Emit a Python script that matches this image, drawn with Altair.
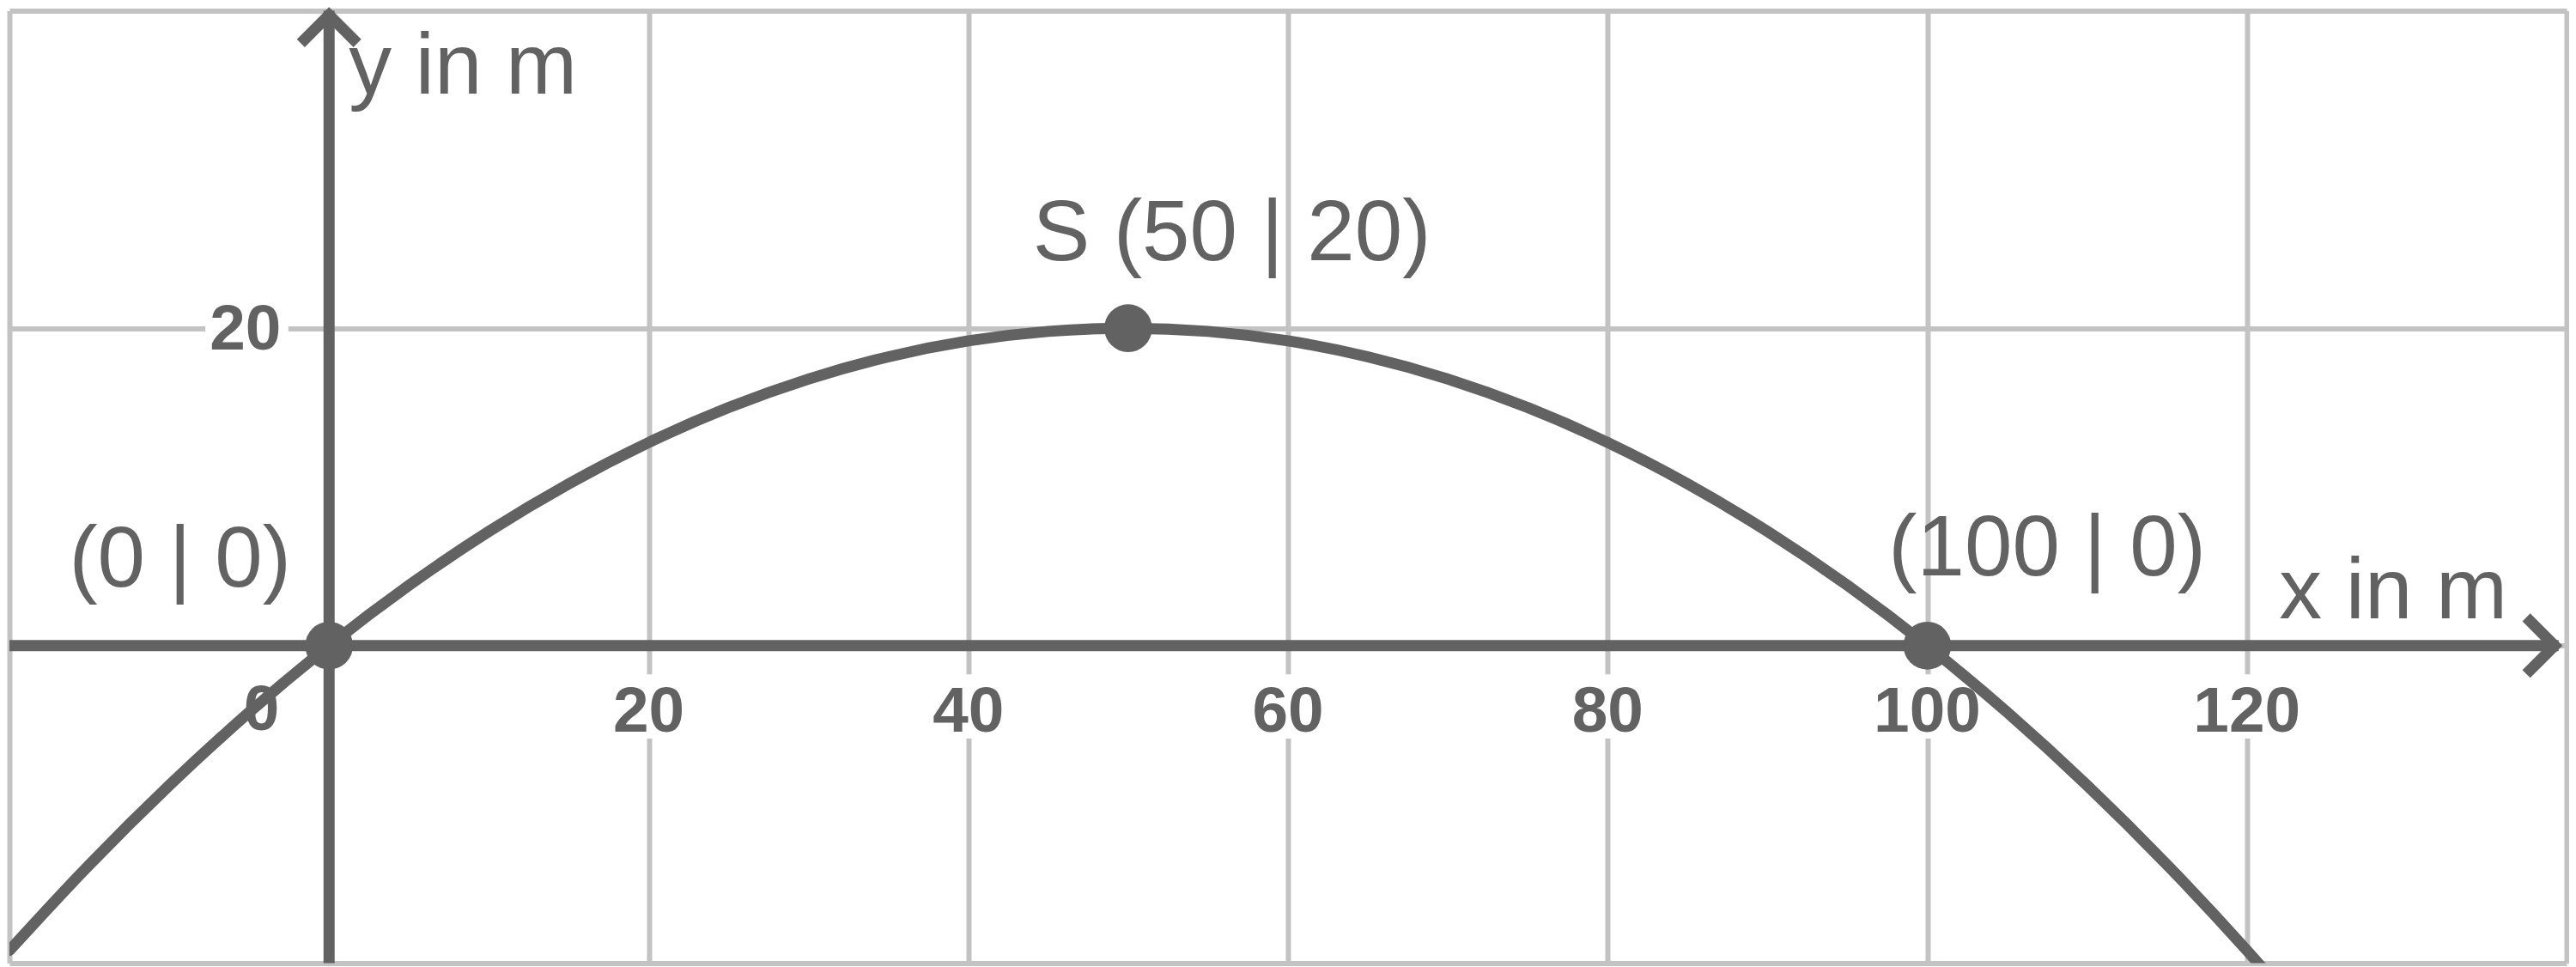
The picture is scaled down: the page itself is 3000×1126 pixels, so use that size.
import altair as alt
import pandas as pd

# ---------------- data ----------------
curve_x = [-20, -15, -10, -5, 0, 5, 10, 15, 20, 25, 30, 35, 40, 45, 50,
           55, 60, 65, 70, 75, 80, 85, 90, 95, 100, 105, 110, 115, 120, 125]
curve_y = [-19.2, -13.8, -8.8, -4.2, 0, 3.8, 7.2, 10.2, 12.8, 15.0, 16.8, 18.2, 19.2, 19.8, 20,
           19.8, 19.2, 18.2, 16.8, 15.0, 12.8, 10.2, 7.2, 3.8, 0, -4.2, -8.8, -13.8, -19.2, -25.0]

grid_x = [-20, 0, 20, 40, 60, 80, 100, 120, 140]
grid_y = [-20, 0, 20, 40]

tick_x = [20, 40, 60, 80, 100, 120]
tick_x_labels = ["20", "40", "60", "80", "100", "120"]
tick_y = [20]
tick_y_labels = ["20"]

points_x = [0, 50, 100]
points_y = [0, 20, 0]
point_labels = ["(0 | 0)", "S (50 | 20)", "(100 | 0)"]

x_axis_from, x_axis_to = -20, 139.5
y_axis_from, y_axis_to = -20, 40

DARK = "#626262"
GRID = "#c3c3c3"
FONT = "Liberation Sans"

xscale = alt.Scale(domain=[-20, 140], nice=False, zero=False)
yscale = alt.Scale(domain=[-20, 40], nice=False, zero=False)
xaxis = alt.Axis(values=grid_x, grid=True, gridColor=GRID, gridWidth=6, gridOpacity=1,
                 domain=False, ticks=False, labels=False, title=None)
yaxis = alt.Axis(values=grid_y, grid=True, gridColor=GRID, gridWidth=6, gridOpacity=1,
                 domain=False, ticks=False, labels=False, title=None)


def X(f):
    return alt.X(f, type="quantitative", scale=xscale, axis=xaxis)


def Y(f):
    return alt.Y(f, type="quantitative", scale=yscale, axis=yaxis)


curve_df = pd.DataFrame({"x": curve_x, "y": curve_y})
xt_df = pd.DataFrame({"x": tick_x, "y": [0] * len(tick_x), "label": tick_x_labels})
x0_df = pd.DataFrame({"x": [0], "y": [0], "label": ["0"]})
yt_df = pd.DataFrame({"x": [0] * len(tick_y), "y": tick_y, "label": tick_y_labels})
pts_df = pd.DataFrame({"x": points_x, "y": points_y, "label": point_labels})
xax_df = pd.DataFrame({"x": [x_axis_from], "x2": [x_axis_to], "y": [0]})
yax_df = pd.DataFrame({"y": [y_axis_from], "y2": [y_axis_to], "x": [0]})
yarrow_df = pd.DataFrame({"x": [0], "y": [y_axis_to]})
xarrow_df = pd.DataFrame({"x": [140], "y": [0]})

# white backgrounds behind tick labels (cut the grid lines)
xt_bg = alt.Chart(xt_df).mark_square(size=5625, color="white", opacity=1, yOffset=71).encode(
    x=X("x"), y=Y("y"))
yt_bg = alt.Chart(yt_df).mark_point(
    shape="M-1,-0.5L1,-0.5L1,0.5L-1,0.5Z", size=9409, filled=True, color="white",
    opacity=1, xOffset=-96).encode(x=X("x"), y=Y("y"))

xt_text = alt.Chart(xt_df).mark_text(
    align="center", baseline="alphabetic", dy=100, fontSize=75, fontWeight="bold",
    font=FONT, color=DARK).encode(x=X("x"), y=Y("y"), text="label:N")
x0_text = alt.Chart(x0_df).mark_text(
    align="center", baseline="alphabetic", dx=-79, dy=98, fontSize=75, fontWeight="bold",
    font=FONT, color=DARK).encode(x=X("x"), y=Y("y"), text="label:N")
yt_text = alt.Chart(yt_df).mark_text(
    align="right", baseline="alphabetic", dx=-56, dy=25, fontSize=75, fontWeight="bold",
    font=FONT, color=DARK).encode(x=X("x"), y=Y("y"), text="label:N")

curve = alt.Chart(curve_df).mark_line(
    color=DARK, strokeWidth=13, strokeCap="round", interpolate="monotone", clip=True).encode(
    x=X("x"), y=Y("y"), order="x:Q")

xaxis_line = alt.Chart(xax_df).mark_rule(color=DARK, strokeWidth=13).encode(
    x=X("x"), x2="x2:Q", y=Y("y"))
yaxis_line = alt.Chart(yax_df).mark_rule(color=DARK, strokeWidth=13).encode(
    y=Y("y"), y2="y2:Q", x=X("x"))

yarrow = alt.Chart(yarrow_df).mark_point(
    shape="M-1,1L0,0L1,1", size=4356, filled=False, strokeWidth=13, color=DARK, opacity=1,
    strokeJoin="miter", strokeCap="butt", yOffset=5).encode(x=X("x"), y=Y("y"))
xarrow = alt.Chart(xarrow_df).mark_point(
    shape="M-1,-1L0,0L-1,1", size=4356, filled=False, strokeWidth=13, color=DARK, opacity=1,
    strokeJoin="miter", strokeCap="butt", xOffset=-14).encode(x=X("x"), y=Y("y"))

pts = alt.Chart(pts_df).mark_circle(size=3117, color=DARK, opacity=1).encode(
    x=X("x"), y=Y("y"))


def plabel(lbl, dx, dy):
    return alt.Chart(pts_df).transform_filter(alt.datum.label == lbl).mark_text(
        align="center", baseline="alphabetic", dx=dx, dy=dy, fontSize=100,
        font=FONT, color=DARK).encode(x=X("x"), y=Y("y"), text="label:N")


lab0 = plabel(point_labels[0], -174, -69)
lab1 = plabel(point_labels[1], 121, -79)
lab2 = plabel(point_labels[2], 140, -82)

ytitle = alt.Chart(yarrow_df).mark_text(
    text="y in m", align="left", baseline="alphabetic", dx=23, dy=97, fontSize=100,
    font=FONT, color=DARK).encode(x=X("x"), y=Y("y"))
xtitle = alt.Chart(xarrow_df).mark_text(
    text="x in m", align="right", baseline="alphabetic", dx=-69, dy=-32, fontSize=100,
    font=FONT, color=DARK).encode(x=X("x"), y=Y("y"))

chart = alt.layer(
    xt_bg, yt_bg, xt_text, x0_text, yt_text,
    curve, xaxis_line, yaxis_line, yarrow, xarrow, pts,
    lab0, lab1, lab2, ytitle, xtitle,
).properties(
    width=2986, height=1112,
    padding={"left": 3, "top": 3, "right": 3, "bottom": 3},
    autosize=alt.AutoSizeParams(type="none"),
    background="white",
).configure_view(strokeWidth=0)

chart.save("out.html", embed_options={"renderer": "svg", "actions": False})
